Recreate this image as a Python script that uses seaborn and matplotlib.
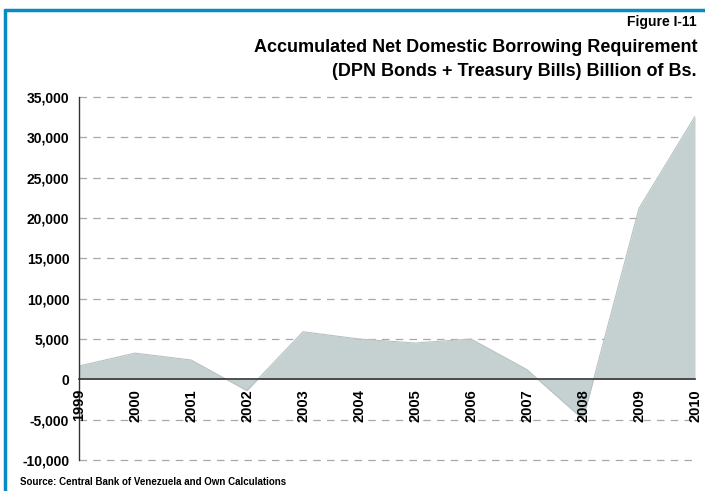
import matplotlib
matplotlib.use("Agg")
import matplotlib.pyplot as plt
import seaborn as sns
import pandas as pd
from matplotlib.lines import Line2D
from matplotlib.ticker import FuncFormatter

sns.set_theme(style="white")
plt.rcParams['font.family'] = ['Liberation Sans', 'DejaVu Sans']
plt.rcParams['text.color'] = 'black'
plt.rcParams['xtick.color'] = 'black'
plt.rcParams['ytick.color'] = 'black'
plt.rcParams['font.weight'] = 'bold'

years = [1999, 2000, 2001, 2002, 2003, 2004, 2005, 2006, 2007, 2008, 2009, 2010]
values = [1650, 3250, 2400, -1400, 5900, 5000, 4500, 5000, 1200, -4950, 21200, 32600]
yticks = [-10000, -5000, 0, 5000, 10000, 15000, 20000, 25000, 30000, 35000]

df = pd.DataFrame({"year": years, "value": values})

fig = plt.figure(figsize=(7.05, 4.91), dpi=100)
ax = fig.add_axes([79/705, 1 - 460/491, (695-79)/705, (460-97)/491])
ax.set_axisbelow(False)

ax.fill_between(df["year"], df["value"], 0, color="#c5d0d0", linewidth=0, zorder=1)
sns.lineplot(data=df, x="year", y="value", ax=ax, color="#b8c2c2", linewidth=0.8, zorder=1.5)

ax.set_xlim(1999, 2010)
ax.set_ylim(-10000, 35000)
ax.set_xlabel("")
ax.set_ylabel("")
ax.grid(False)

ax.spines["right"].set_visible(False)
ax.spines["top"].set_visible(False)
ax.spines["bottom"].set_position(("data", 0))
ax.spines["bottom"].set_color("#333333")
ax.spines["bottom"].set_linewidth(1.2)
ax.spines["left"].set_color("#333333")
ax.spines["left"].set_linewidth(1.0)
ax.tick_params(axis="y", direction="out", length=5, width=1, color="#333333", pad=2,
               labelcolor="black", labelsize=10)
ax.tick_params(axis="x", direction="out", length=5, width=1, color="#333333", pad=2,
               labelcolor="black", labelsize=10, labelrotation=90)

ax.set_yticks(yticks)
ax.yaxis.set_major_formatter(FuncFormatter(lambda v, p: f"{int(v):,}"))
ax.set_xticks(years)
ax.set_xticklabels([str(y) for y in years], rotation=90, fontweight="bold", fontsize=10.5, va="top")
for lab in ax.get_yticklabels():
    lab.set_fontweight("bold")

for t in yticks:
    if t != 0:
        ax.axhline(t, color="#a8a8a8", linestyle=(0, (6, 5)), linewidth=0.9, zorder=0, clip_on=False)

# frame lines (top and left)
fig.add_artist(Line2D([5/705, 1], [1 - 10/491, 1 - 10/491], transform=fig.transFigure, color="#0a8ac2", linewidth=2.5))
fig.add_artist(Line2D([5/705, 5/705], [0, 1 - 10/491], transform=fig.transFigure, color="#0a8ac2", linewidth=2.5))

fig.text(697/705, 1 - 22/491, "Figure I-11", ha="right", va="center", fontsize=10, fontweight="bold")
fig.text(697/705, 1 - 47/491, "Accumulated Net Domestic Borrowing Requirement", ha="right", va="center", fontsize=13, fontweight="bold")
fig.text(697/705, 1 - 71/491, "(DPN Bonds + Treasury Bills) Billion of Bs.", ha="right", va="center", fontsize=13, fontweight="bold")
fig.text(20/705, 1 - 482/491, "Source: Central Bank of Venezuela and Own Calculations", ha="left", va="center", fontsize=7, fontweight="bold")

fig.savefig("out.png", dpi=100)
